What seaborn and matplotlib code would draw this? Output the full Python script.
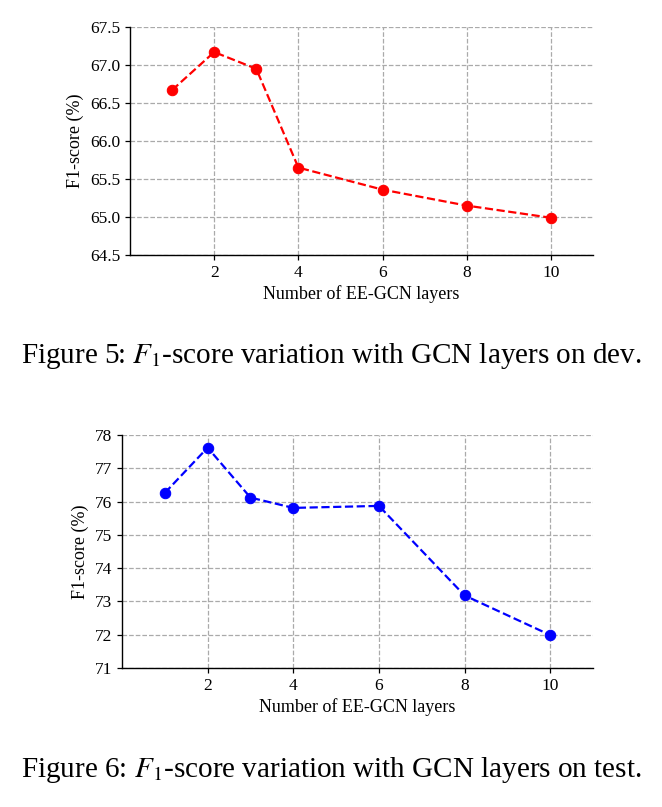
import seaborn as sns
import matplotlib.pyplot as plt
import pandas as pd

layers = [1, 2, 3, 4, 6, 8, 10]
f1_dev = [66.67, 67.17, 66.95, 65.65, 65.36, 65.15, 64.99]
f1_test = [76.26, 77.62, 76.12, 75.81, 75.87, 73.18, 71.99]

df = pd.DataFrame({'layers': layers, 'dev': f1_dev, 'test': f1_test})

sns.set_style('ticks', {'text.color': 'black', 'axes.labelcolor': 'black',
                        'xtick.color': 'black', 'ytick.color': 'black',
                        'axes.edgecolor': 'black'})
plt.rcParams['font.family'] = ['Liberation Serif', 'DejaVu Serif']
plt.rcParams['mathtext.fontset'] = 'stix'

fig = plt.figure(figsize=(6.62, 8.07), dpi=100)
W, H = 662, 807

def make_axes(left, top, right, bottom):
    return fig.add_axes([left / W, 1 - bottom / H, (right - left) / W, (bottom - top) / H])

ax1 = make_axes(130, 27, 593, 255)
ax2 = make_axes(122, 435, 593, 668)

# dev
sns.lineplot(data=df, x='layers', y='dev', ax=ax1, color='red', marker='o',
             linestyle='--', linewidth=1.6, markersize=7.5, markeredgecolor='red')
ax1.set_ylim(64.5, 67.5)
ax1.set_yticks([64.5, 65.0, 65.5, 66.0, 66.5, 67.0, 67.5])
ax1.set_yticklabels(['64.5', '65.0', '65.5', '66.0', '66.5', '67.0', '67.5'])

# test
sns.lineplot(data=df, x='layers', y='test', ax=ax2, color='blue', marker='o',
             linestyle='--', linewidth=1.6, markersize=7.5, markeredgecolor='blue')
ax2.set_ylim(71, 78)
ax2.set_yticks(range(71, 79))

for ax in (ax1, ax2):
    ax.set_xlim(0, 11)
    ax.set_xticks([2, 4, 6, 8, 10])
    ax.grid(True, linestyle='--', color='#aaaaaa', linewidth=0.9)
    ax.set_axisbelow(True)
    sns.despine(ax=ax)
    ax.set_xlabel('Number of EE-GCN layers', fontsize=13, labelpad=3)
    ax.set_ylabel('F1-score (%)', fontsize=13, labelpad=4)
    ax.tick_params(labelsize=12.5, length=3.5, width=0.9)
    for s in ax.spines.values():
        s.set_linewidth(1.0)

fig.text(0.5, 1 - 356 / H, r'Figure 5: $F_1$-score variation with GCN layers on dev.',
         ha='center', va='center', fontsize=21)
fig.text(0.5, 1 - 770 / H, r'Figure 6: $F_1$-score variation with GCN layers on test.',
         ha='center', va='center', fontsize=21)

fig.savefig('out.png', dpi=100)
